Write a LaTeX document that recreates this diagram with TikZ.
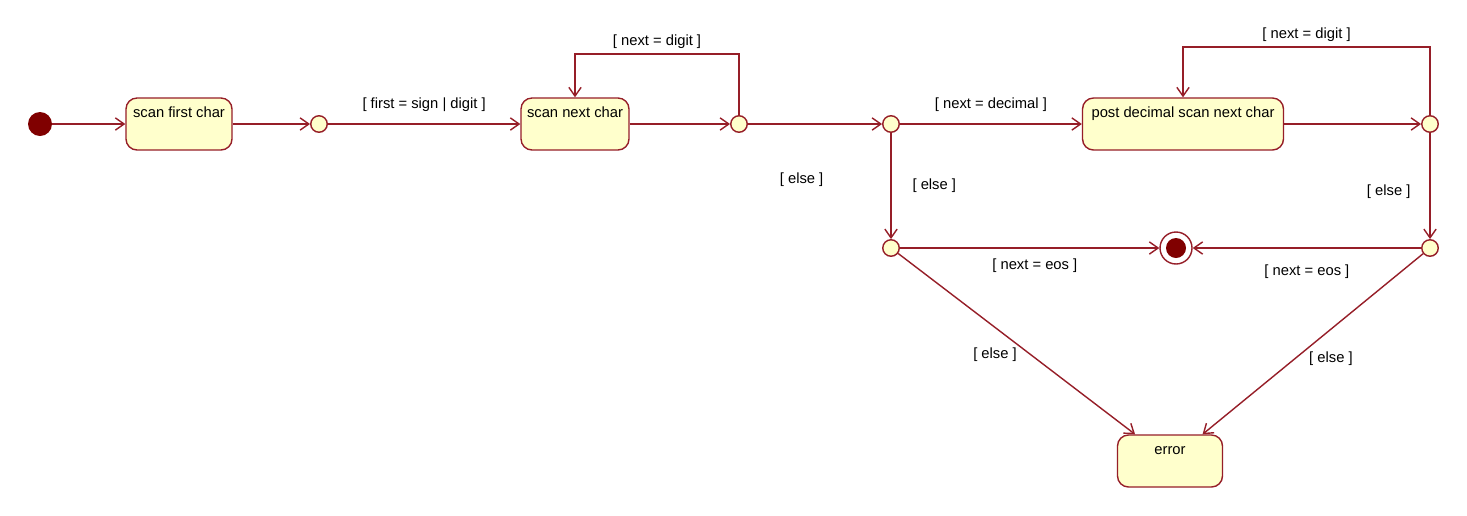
\documentclass[tikz,border=0pt]{standalone}
\usepackage{fontspec}
\setmainfont{Liberation Sans}
\usetikzlibrary{arrows.meta,positioning}
\definecolor{umlred}{RGB}{150,30,40}
\definecolor{umlfill}{RGB}{255,255,204}
\definecolor{umldark}{RGB}{128,0,0}
\tikzstyle{state} = [draw=umlred, fill=umlfill, rounded corners=0.22cm, line width=0.8pt, inner sep=0pt, text height=0.38cm, text depth=0.66cm, font=\fontsize{8.4}{10}\selectfont]
\tikzstyle{choice} = [draw=umlred, fill=umlfill, circle, line width=0.8pt, inner sep=0pt, minimum size=0.33cm]
\tikzstyle{initial} = [fill=umldark, circle, inner sep=0pt, minimum size=0.48cm]
\tikzstyle{final} = [draw=umlred, fill=white, circle, line width=0.8pt, inner sep=0pt, minimum size=0.64cm, path picture={\fill[umldark] (path picture bounding box.center) circle (0.2cm);}]
\tikzstyle{trans} = [draw=umlred, line width=0.8pt, -{Straight Barb[length=5pt,width=7pt]}]
\tikzstyle{guard} = [font=\fontsize{8.4}{10}\selectfont, text=black]

\begin{document}
\begin{tikzpicture}[x=0.02cm,y=-0.02cm]
  \fill[white] (0,0) rectangle (1467,515);
  \useasboundingbox (0,0) rectangle (1467,515);
  \node[initial](init) at (40,124){};
  \node[state,minimum width=2.12cm](first) at (179,124){scan first char};
  \node[choice](c1) at (319,124){};
  \node[state,minimum width=2.16cm](next) at (575,124){scan next char};
  \node[choice](c2) at (739,124){};
  \node[choice](c3) at (891,124){};
  \node[state,minimum width=4.02cm](post) at (1183,124){post decimal scan next char};
  \node[choice](c4) at (1430,124){};
  \node[choice](c5) at (891,248){};
  \node[final](fin) at (1176,248){};
  \node[choice](c6) at (1430,248){};
  \node[state,minimum width=2.1cm](err) at (1170,461){error};
  \draw[trans](init)--(first);
  \draw[trans](first)--(c1);
  \draw[trans](c1)--node[guard,above=0.12cm]{[ first = sign | digit ]}(next);
  \draw[trans](next)--(c2);
  \draw[trans](c2)--(c2 |- 0,54)-|node[guard,pos=0.25,above=-0.02cm]{[ next = digit ]}(next);
  \draw[trans](c2)--node[guard,pos=0.4,below=0.84cm]{[ else ]}(c3);
  \draw[trans](c3)--node[guard,above=0.12cm]{[ next = decimal ]}(post);
  \draw[trans](c3)--node[guard,right=0.3cm]{[ else ]}(c5);
  \draw[trans](post)--(c4);
  \draw[trans](c4)--(c4 |- 0,47)-|node[guard,pos=0.25,above=-0.02cm]{[ next = digit ]}(post);
  \draw[trans](c4)--node[guard,pos=0.55,left=0.26cm]{[ else ]}(c6);
  \draw[trans](c5)--node[guard,pos=0.52,below=0.08cm]{[ next = eos ]}(fin);
  \draw[trans](c6)--node[guard,below=0.2cm]{[ next = eos ]}(fin);
  \draw[trans](c5)--node[guard,pos=0.56,left=0.15cm]{[ else ]}(err);
  \draw[trans](c6)--node[guard,pos=0.58,right=0.15cm]{[ else ]}(err);
\end{tikzpicture}
\end{document}
